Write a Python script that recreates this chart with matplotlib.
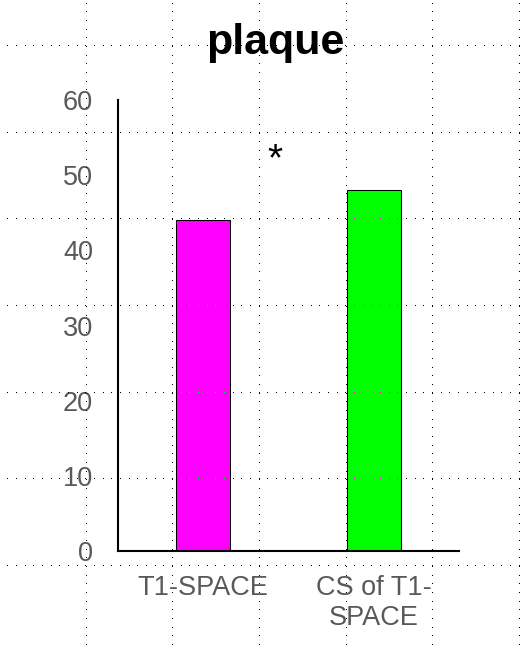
import numpy as np
import matplotlib
matplotlib.use("Agg")
import matplotlib.pyplot as plt

CATEGORIES = ["T1-SPACE", "CS of T1-\nSPACE"]
VALUES = [44, 48]
BAR_COLORS = ["#ff00ff", "#00ff00"]
Y_TICKS = [0, 10, 20, 30, 40, 50, 60]
TITLE = "plaque"
SIG_MARK = "*"

FIG_W, FIG_H, DPI = 525, 645, 100
TICK_GRAY = "#595959"

plt.rcParams["font.family"] = ["Liberation Sans", "DejaVu Sans"]


def dotted_overlay(fig):
    # page-style dotted grid, drawn as inverted pixels over whatever is below
    fig.canvas.draw()
    base = np.asarray(fig.canvas.buffer_rgba()).astype(int)
    h, w = base.shape[:2]
    step = 8.667
    cell = step * 10
    mask = np.zeros((h, w), dtype=bool)
    cols = np.round(np.arange(7.3, w, step)).astype(int)
    rows = np.round(np.arange(2.7, h, step)).astype(int)
    for y in np.round(np.arange(45.0, h, cell)).astype(int):
        mask[y, cols[cols < w]] = True
    for x in np.round(np.arange(85.7, w, cell)).astype(int):
        mask[rows[rows < h], x] = True

    rgb = base[..., :3]
    grayish = (rgb.max(axis=-1) - rgb.min(axis=-1)) < 30
    dot = np.where(grayish[..., None], 0, 255 - rgb)
    overlay = np.zeros((h, w, 4), dtype=np.uint8)
    overlay[..., :3] = dot
    overlay[..., 3] = np.where(mask, 255, 0)
    fig.figimage(overlay, xo=0, yo=0, origin="upper", zorder=10)


def make_plot():
    fig = plt.figure(figsize=(FIG_W / DPI, FIG_H / DPI), dpi=DPI)
    ax = fig.add_axes([118 / FIG_W, 1 - 551 / FIG_H, (459 - 118) / FIG_W, (551 - 100) / FIG_H])

    x = np.arange(len(CATEGORIES))
    ax.bar(x, VALUES, width=0.314, color=BAR_COLORS, edgecolor="black", linewidth=0.75)

    ax.set_xlim(-0.5, 1.5)
    ax.set_ylim(0, 60)
    ax.set_yticks(Y_TICKS)
    ax.set_xticks(x)
    ax.set_xticklabels(CATEGORIES, linespacing=1.2)
    ax.tick_params(axis="y", length=0, pad=18, labelsize=19.5, labelcolor=TICK_GRAY)
    ax.tick_params(axis="x", length=0, pad=17, labelsize=19.5, labelcolor=TICK_GRAY)

    for side in ["top", "right"]:
        ax.spines[side].set_visible(False)
    for side in ["left", "bottom"]:
        ax.spines[side].set_linewidth(1.5)
        ax.spines[side].set_color("black")

    ax.text(0.42, 50.7, SIG_MARK, ha="center", va="baseline", fontsize=28, color="black")

    fig.text(275 / FIG_W, 1 - 54 / FIG_H, TITLE, ha="center", va="baseline",
             fontsize=31, fontweight="bold", color="black")

    dotted_overlay(fig)
    fig.savefig("out.png", dpi=DPI)


if __name__ == "__main__":
    make_plot()
